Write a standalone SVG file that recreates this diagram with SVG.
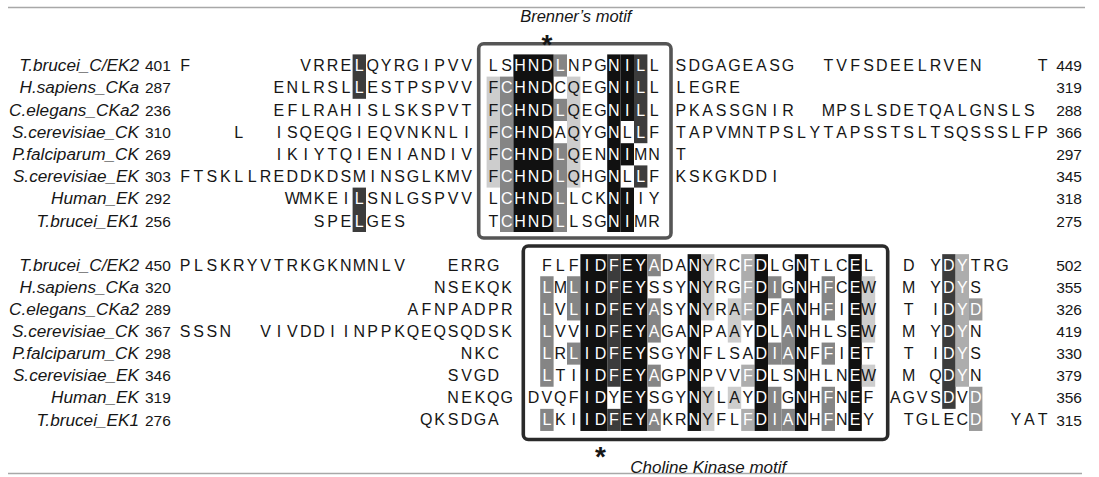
<svg xmlns="http://www.w3.org/2000/svg" width="1099" height="477" viewBox="0 0 1099 477">
<style>
text{font-family:"Liberation Sans",Arial,Helvetica,sans-serif}
.s{font-size:16px;text-anchor:middle;fill:#161616}
.w{font-size:16px;text-anchor:middle;fill:#ffffff}
.lab{font-size:17.2px;font-style:italic;text-anchor:end;fill:#161616}
.nl{font-size:15.5px;fill:#161616}
.nr{font-size:15.5px;fill:#161616;text-anchor:end}
.ttl{font-size:16.5px;font-style:italic;text-anchor:middle;fill:#161616}
.ast{font-size:28px;font-weight:bold;text-anchor:middle;fill:#161616}
.k{fill:#111111}.d{fill:#3c3c3c}.m{fill:#858585}.l{fill:#cdcdcd}.l2{fill:#adadad}.m2{fill:#999999}
.rule{stroke:#a8a8a8;stroke-width:1.3}
.box{fill:none;stroke-width:3.6}
</style>
<g id="rules">
<line class="rule" x1="8" y1="7.5" x2="1085" y2="7.5"/>
<line class="rule" x1="8" y1="473.5" x2="1082" y2="473.5"/>
</g>
<g id="block1-labels">
<text class="lab" x="139" y="71.1">T.brucei_C/EK2</text>
<text class="lab" x="139" y="93.3">H.sapiens_CKa</text>
<text class="lab" x="139" y="115.5">C.elegans_CKa2</text>
<text class="lab" x="139" y="137.7">S.cerevisiae_CK</text>
<text class="lab" x="139" y="159.9">P.falciparum_CK</text>
<text class="lab" x="139" y="182.1">S.cerevisiae_EK</text>
<text class="lab" x="139" y="204.3">Human_EK</text>
<text class="lab" x="139" y="226.5">T.brucei_EK1</text>
<text class="nl" x="145" y="71.1">401</text>
<text class="nl" x="145" y="93.3">287</text>
<text class="nl" x="145" y="115.5">236</text>
<text class="nl" x="145" y="137.7">310</text>
<text class="nl" x="145" y="159.9">269</text>
<text class="nl" x="145" y="182.1">303</text>
<text class="nl" x="145" y="204.3">292</text>
<text class="nl" x="145" y="226.5">256</text>
<text class="nr" x="1082" y="71.1">449</text>
<text class="nr" x="1082" y="93.3">319</text>
<text class="nr" x="1082" y="115.5">288</text>
<text class="nr" x="1082" y="137.7">366</text>
<text class="nr" x="1082" y="159.9">297</text>
<text class="nr" x="1082" y="182.1">345</text>
<text class="nr" x="1082" y="204.3">318</text>
<text class="nr" x="1082" y="226.5">275</text>
</g>
<g id="block1" transform="translate(185.1,65.5)">
<g id="block1-shading">
<rect class="d" x="167.5" y="-11.1" width="13.4" height="44.4"/>
<rect class="d" x="167.5" y="122.1" width="13.4" height="44.4"/>
<rect class="l" x="301.5" y="11.1" width="13.4" height="111"/>
<rect class="l" x="381.9" y="11.1" width="13.4" height="111"/>
<rect class="m" x="314.9" y="11.1" width="13.4" height="155.4"/>
<rect class="m" x="368.5" y="-11.1" width="13.4" height="22.2"/>
<rect class="m" x="368.5" y="33.3" width="13.4" height="22.2"/>
<rect class="m" x="368.5" y="77.7" width="13.4" height="88.8"/>
<rect class="k" x="328.3" y="-11.1" width="40.2" height="177.6"/>
<rect class="k" x="422.1" y="-11.1" width="13.4" height="177.6"/>
<rect class="k" x="435.5" y="-11.1" width="13.4" height="66.6"/>
<rect class="k" x="435.5" y="77.7" width="13.4" height="22.2"/>
<rect class="k" x="435.5" y="122.1" width="13.4" height="44.4"/>
<rect class="d" x="448.9" y="-11.1" width="13.4" height="88.8"/>
<rect class="d" x="448.9" y="99.9" width="13.4" height="22.2"/>
</g>
<g id="block1-row1">
<text class="s" y="5.6" x="0 120.6 134 147.4 160.8">FVRRE</text>
<text class="w" y="5.6" x="174.2">L</text>
<text class="s" y="5.6" x="187.6 201 214.4 227.8 241.2 254.6 268 281.4 308.2 321.6">QYRGIPVVLS</text>
<text class="w" y="5.6" x="335 348.4 361.8 375.2">HNDL</text>
<text class="s" y="5.6" x="388.6 402 415.4">NPG</text>
<text class="w" y="5.6" x="428.8 442.2 455.6">NIL</text>
<text class="s" y="5.6" x="469 495.8 509.2 522.6 536 549.4 562.8 576.2 589.6 603 643.2 656.6 670 683.4 696.8 710.2 723.6 737 750.4 763.8 777.2 790.6 857.6">LSDGAGEASGTVFSDEELRVENT</text>
</g>
<g id="block1-row2">
<text class="s" y="27.8" x="93.8 107.2 120.6 134 147.4 160.8">ENLRSL</text>
<text class="w" y="27.8" x="174.2">L</text>
<text class="s" y="27.8" x="187.6 201 214.4 227.8 241.2 254.6 268 281.4 308.2">ESTPSPVVF</text>
<text class="w" y="27.8" x="321.6 335 348.4 361.8">CHND</text>
<text class="s" y="27.8" x="375.2 388.6 402 415.4">CQEG</text>
<text class="w" y="27.8" x="428.8 442.2 455.6">NIL</text>
<text class="s" y="27.8" x="469 495.8 509.2 522.6 536 549.4">LLEGRE</text>
</g>
<g id="block1-row3">
<text class="s" y="50" x="93.8 107.2 120.6 134 147.4 160.8 174.2 187.6 201 214.4 227.8 241.2 254.6 268 281.4 308.2">EFLRAHISLSKSPVTF</text>
<text class="w" y="50" x="321.6 335 348.4 361.8 375.2">CHNDL</text>
<text class="s" y="50" x="388.6 402 415.4">QEG</text>
<text class="w" y="50" x="428.8 442.2 455.6">NIL</text>
<text class="s" y="50" x="469 495.8 509.2 522.6 536 549.4 562.8 576.2 589.6 603 643.2 656.6 670 683.4 696.8 710.2 723.6 737 750.4 763.8 777.2 790.6 804 817.4 830.8 844.2">LPKASSGNIRMPSLSDETQALGNSLS</text>
</g>
<g id="block1-row4">
<text class="s" y="72.2" x="53.6 93.8 107.2 120.6 134 147.4 160.8 174.2 187.6 201 214.4 227.8 241.2 254.6 268 281.4 308.2">LISQEQGIEQVNKNLIF</text>
<text class="w" y="72.2" x="321.6 335 348.4 361.8">CHND</text>
<text class="s" y="72.2" x="375.2 388.6 402 415.4">AQYG</text>
<text class="w" y="72.2" x="428.8">N</text>
<text class="s" y="72.2" x="442.2">L</text>
<text class="w" y="72.2" x="455.6">L</text>
<text class="s" y="72.2" x="469 495.8 509.2 522.6 536 549.4 562.8 576.2 589.6 603 616.4 629.8 643.2 656.6 670 683.4 696.8 710.2 723.6 737 750.4 763.8 777.2 790.6 804 817.4 830.8 844.2 857.6">FTAPVMNTPSLYTAPSSTSLTSQSSSLFP</text>
</g>
<g id="block1-row5">
<text class="s" y="94.4" x="93.8 107.2 120.6 134 147.4 160.8 174.2 187.6 201 214.4 227.8 241.2 254.6 268 281.4 308.2">IKIYTQIENIANDIVF</text>
<text class="w" y="94.4" x="321.6 335 348.4 361.8 375.2">CHNDL</text>
<text class="s" y="94.4" x="388.6 402 415.4">QEN</text>
<text class="w" y="94.4" x="428.8 442.2">NI</text>
<text class="s" y="94.4" x="455.6 469 495.8">MNT</text>
</g>
<g id="block1-row6">
<text class="s" y="116.6" x="0 13.4 26.8 40.2 53.6 67 80.4 93.8 107.2 120.6 134 147.4 160.8 174.2 187.6 201 214.4 227.8 241.2 254.6 268 281.4 308.2">FTSKLLREDDKDSMINSGLKMVF</text>
<text class="w" y="116.6" x="321.6 335 348.4 361.8 375.2">CHNDL</text>
<text class="s" y="116.6" x="388.6 402 415.4">QHG</text>
<text class="w" y="116.6" x="428.8">N</text>
<text class="s" y="116.6" x="442.2">L</text>
<text class="w" y="116.6" x="455.6">L</text>
<text class="s" y="116.6" x="469 495.8 509.2 522.6 536 549.4 562.8 576.2 589.6">FKSKGKDDI</text>
</g>
<g id="block1-row7">
<text class="s" y="138.8" x="107.2 120.6 134 147.4 160.8">WMKEI</text>
<text class="w" y="138.8" x="174.2">L</text>
<text class="s" y="138.8" x="187.6 201 214.4 227.8 241.2 254.6 268 281.4 308.2">SNLGSPVVL</text>
<text class="w" y="138.8" x="321.6 335 348.4 361.8 375.2">CHNDL</text>
<text class="s" y="138.8" x="388.6 402 415.4">LCK</text>
<text class="w" y="138.8" x="428.8 442.2">NI</text>
<text class="s" y="138.8" x="455.6 469">IY</text>
</g>
<g id="block1-row8">
<text class="s" y="161" x="134 147.4 160.8">SPE</text>
<text class="w" y="161" x="174.2">L</text>
<text class="s" y="161" x="187.6 201 214.4 308.2">GEST</text>
<text class="w" y="161" x="321.6 335 348.4 361.8 375.2">CHNDL</text>
<text class="s" y="161" x="388.6 402 415.4">LSG</text>
<text class="w" y="161" x="428.8 442.2">NI</text>
<text class="s" y="161" x="455.6 469">MR</text>
</g>
</g>
<g id="brenner-motif">
<rect class="box" x="478.7" y="43.8" width="192.3" height="194.2" rx="5" stroke="#555555"/>
<text class="ttl" x="575.8" y="21.7">Brenner’s motif</text>
<text class="ast" x="546.9" y="54">*</text>
</g>
<g id="block2-labels">
<text class="lab" x="139" y="270.8">T.brucei_C/EK2</text>
<text class="lab" x="139" y="292.9">H.sapiens_CKa</text>
<text class="lab" x="139" y="315">C.elegans_CKa2</text>
<text class="lab" x="139" y="337.1">S.cerevisiae_CK</text>
<text class="lab" x="139" y="359.2">P.falciparum_CK</text>
<text class="lab" x="139" y="381.3">S.cerevisiae_EK</text>
<text class="lab" x="139" y="403.4">Human_EK</text>
<text class="lab" x="139" y="425.5">T.brucei_EK1</text>
<text class="nl" x="145" y="270.8">450</text>
<text class="nl" x="145" y="292.9">320</text>
<text class="nl" x="145" y="315">289</text>
<text class="nl" x="145" y="337.1">367</text>
<text class="nl" x="145" y="359.2">298</text>
<text class="nl" x="145" y="381.3">346</text>
<text class="nl" x="145" y="403.4">319</text>
<text class="nl" x="145" y="425.5">276</text>
<text class="nr" x="1082" y="270.8">502</text>
<text class="nr" x="1082" y="292.9">355</text>
<text class="nr" x="1082" y="315">326</text>
<text class="nr" x="1082" y="337.1">419</text>
<text class="nr" x="1082" y="359.2">330</text>
<text class="nr" x="1082" y="381.3">379</text>
<text class="nr" x="1082" y="403.4">356</text>
<text class="nr" x="1082" y="425.5">315</text>
</g>
<g id="block2" transform="translate(185.1,265.2)">
<g id="block2-shading">
<rect class="m" x="355.1" y="11.05" width="13.4" height="110.5"/>
<rect class="m" x="355.1" y="143.65" width="13.4" height="22.1"/>
<rect class="m" x="381.9" y="11.05" width="13.4" height="44.2"/>
<rect class="m" x="381.9" y="77.35" width="13.4" height="22.1"/>
<rect class="k" x="395.3" y="-11.05" width="26.8" height="176.8"/>
<rect class="d" x="422.1" y="-11.05" width="13.4" height="132.6"/>
<rect class="d" x="422.1" y="143.65" width="13.4" height="22.1"/>
<rect class="k" x="435.5" y="-11.05" width="26.8" height="176.8"/>
<rect class="m" x="462.3" y="-11.05" width="13.4" height="22.1"/>
<rect class="m" x="462.3" y="33.15" width="13.4" height="44.2"/>
<rect class="m" x="462.3" y="99.45" width="13.4" height="22.1"/>
<rect class="m" x="462.3" y="143.65" width="13.4" height="22.1"/>
<rect class="k" x="502.5" y="-11.05" width="13.4" height="176.8"/>
<rect class="l" x="515.9" y="-11.05" width="13.4" height="66.3"/>
<rect class="l" x="515.9" y="121.55" width="13.4" height="44.2"/>
<rect class="l" x="542.7" y="33.15" width="13.4" height="44.2"/>
<rect class="l" x="542.7" y="121.55" width="13.4" height="22.1"/>
<rect class="l2" x="556.1" y="-11.05" width="13.4" height="66.3"/>
<rect class="l2" x="556.1" y="99.45" width="13.4" height="22.1"/>
<rect class="l2" x="556.1" y="143.65" width="13.4" height="22.1"/>
<rect class="k" x="569.5" y="-11.05" width="13.4" height="176.8"/>
<rect class="m" x="582.9" y="11.05" width="13.4" height="22.1"/>
<rect class="m" x="582.9" y="77.35" width="13.4" height="22.1"/>
<rect class="m" x="582.9" y="121.55" width="13.4" height="44.2"/>
<rect class="m" x="596.3" y="33.15" width="13.4" height="66.3"/>
<rect class="m" x="596.3" y="143.65" width="13.4" height="22.1"/>
<rect class="k" x="609.7" y="-11.05" width="13.4" height="176.8"/>
<rect class="m" x="636.5" y="11.05" width="13.4" height="44.2"/>
<rect class="m" x="636.5" y="77.35" width="13.4" height="22.1"/>
<rect class="m" x="636.5" y="121.55" width="13.4" height="44.2"/>
<rect class="k" x="663.3" y="-11.05" width="13.4" height="176.8"/>
<rect class="l" x="676.7" y="11.05" width="13.4" height="66.3"/>
<rect class="l" x="676.7" y="99.45" width="13.4" height="22.1"/>
<rect class="d" x="757.1" y="-11.05" width="13.4" height="154.7"/>
<rect class="l2" x="770.5" y="-11.05" width="13.4" height="132.6"/>
<rect class="m2" x="783.9" y="33.15" width="13.4" height="22.1"/>
<rect class="m2" x="783.9" y="121.55" width="13.4" height="44.2"/>
</g>
<g id="block2-row1">
<text class="s" y="5.6" x="0 13.4 26.8 40.2 53.6 67 80.4 93.8 107.2 120.6 134 147.4 160.8 174.2 187.6 201 214.4 268 281.4 294.8 308.2 361.8 375.2 388.6">PLSKRYVTRKGKNMNLVERRGFLF</text>
<text class="w" y="5.6" x="402 415.4 428.8 442.2 455.6 469">IDFEYA</text>
<text class="s" y="5.6" x="482.4 495.8">DA</text>
<text class="w" y="5.6" x="509.2">N</text>
<text class="s" y="5.6" x="522.6 536 549.4">YRC</text>
<text class="w" y="5.6" x="562.8 576.2">FD</text>
<text class="s" y="5.6" x="589.6 603">LG</text>
<text class="w" y="5.6" x="616.4">N</text>
<text class="s" y="5.6" x="629.8 643.2 656.6">TLC</text>
<text class="w" y="5.6" x="670">E</text>
<text class="s" y="5.6" x="683.4 723.6 750.4">LDY</text>
<text class="w" y="5.6" x="763.8 777.2">DY</text>
<text class="s" y="5.6" x="790.6 804 817.4">TRG</text>
</g>
<g id="block2-row2">
<text class="s" y="27.7" x="254.6 268 281.4 294.8 308.2 321.6">NSEKQK</text>
<text class="w" y="27.7" x="361.8">L</text>
<text class="s" y="27.7" x="375.2">M</text>
<text class="w" y="27.7" x="388.6 402 415.4 428.8 442.2 455.6">LIDFEY</text>
<text class="s" y="27.7" x="469 482.4 495.8">SSY</text>
<text class="w" y="27.7" x="509.2">N</text>
<text class="s" y="27.7" x="522.6 536 549.4">YRG</text>
<text class="w" y="27.7" x="562.8 576.2 589.6">FDI</text>
<text class="s" y="27.7" x="603">G</text>
<text class="w" y="27.7" x="616.4">N</text>
<text class="s" y="27.7" x="629.8">H</text>
<text class="w" y="27.7" x="643.2">F</text>
<text class="s" y="27.7" x="656.6">C</text>
<text class="w" y="27.7" x="670">E</text>
<text class="s" y="27.7" x="683.4 723.6 750.4">WMY</text>
<text class="w" y="27.7" x="763.8 777.2">DY</text>
<text class="s" y="27.7" x="790.6">S</text>
</g>
<g id="block2-row3">
<text class="s" y="49.8" x="227.8 241.2 254.6 268 281.4 294.8 308.2 321.6">AFNPADPR</text>
<text class="w" y="49.8" x="361.8">L</text>
<text class="s" y="49.8" x="375.2">V</text>
<text class="w" y="49.8" x="388.6 402 415.4 428.8 442.2 455.6 469">LIDFEYA</text>
<text class="s" y="49.8" x="482.4 495.8">SY</text>
<text class="w" y="49.8" x="509.2">N</text>
<text class="s" y="49.8" x="522.6 536 549.4">YRA</text>
<text class="w" y="49.8" x="562.8 576.2">FD</text>
<text class="s" y="49.8" x="589.6">F</text>
<text class="w" y="49.8" x="603 616.4">AN</text>
<text class="s" y="49.8" x="629.8">H</text>
<text class="w" y="49.8" x="643.2">F</text>
<text class="s" y="49.8" x="656.6">I</text>
<text class="w" y="49.8" x="670">E</text>
<text class="s" y="49.8" x="683.4 723.6 750.4">WTI</text>
<text class="w" y="49.8" x="763.8 777.2 790.6">DYD</text>
</g>
<g id="block2-row4">
<text class="s" y="71.9" x="0 13.4 26.8 40.2 80.4 93.8 107.2 120.6 134 147.4 160.8 174.2 187.6 201 214.4 227.8 241.2 254.6 268 281.4 294.8 308.2 321.6">SSSNVIVDDIINPPKQEQSQDSK</text>
<text class="w" y="71.9" x="361.8">L</text>
<text class="s" y="71.9" x="375.2 388.6">VV</text>
<text class="w" y="71.9" x="402 415.4 428.8 442.2 455.6 469">IDFEYA</text>
<text class="s" y="71.9" x="482.4 495.8">GA</text>
<text class="w" y="71.9" x="509.2">N</text>
<text class="s" y="71.9" x="522.6 536 549.4 562.8">PAAY</text>
<text class="w" y="71.9" x="576.2">D</text>
<text class="s" y="71.9" x="589.6">L</text>
<text class="w" y="71.9" x="603 616.4">AN</text>
<text class="s" y="71.9" x="629.8 643.2 656.6">HLS</text>
<text class="w" y="71.9" x="670">E</text>
<text class="s" y="71.9" x="683.4 723.6 750.4">WMY</text>
<text class="w" y="71.9" x="763.8 777.2">DY</text>
<text class="s" y="71.9" x="790.6">N</text>
</g>
<g id="block2-row5">
<text class="s" y="94" x="281.4 294.8 308.2">NKC</text>
<text class="w" y="94" x="361.8">L</text>
<text class="s" y="94" x="375.2">R</text>
<text class="w" y="94" x="388.6 402 415.4 428.8 442.2 455.6">LIDFEY</text>
<text class="s" y="94" x="469 482.4 495.8">SGY</text>
<text class="w" y="94" x="509.2">N</text>
<text class="s" y="94" x="522.6 536 549.4 562.8">FLSA</text>
<text class="w" y="94" x="576.2 589.6 603 616.4">DIAN</text>
<text class="s" y="94" x="629.8">F</text>
<text class="w" y="94" x="643.2">F</text>
<text class="s" y="94" x="656.6">I</text>
<text class="w" y="94" x="670">E</text>
<text class="s" y="94" x="683.4 723.6 750.4">TTI</text>
<text class="w" y="94" x="763.8 777.2">DY</text>
<text class="s" y="94" x="790.6">S</text>
</g>
<g id="block2-row6">
<text class="s" y="116.1" x="268 281.4 294.8 308.2">SVGD</text>
<text class="w" y="116.1" x="361.8">L</text>
<text class="s" y="116.1" x="375.2 388.6">TI</text>
<text class="w" y="116.1" x="402 415.4 428.8 442.2 455.6 469">IDFEYA</text>
<text class="s" y="116.1" x="482.4 495.8">GP</text>
<text class="w" y="116.1" x="509.2">N</text>
<text class="s" y="116.1" x="522.6 536 549.4">PVV</text>
<text class="w" y="116.1" x="562.8 576.2">FD</text>
<text class="s" y="116.1" x="589.6 603">LS</text>
<text class="w" y="116.1" x="616.4">N</text>
<text class="s" y="116.1" x="629.8 643.2 656.6">HLN</text>
<text class="w" y="116.1" x="670">E</text>
<text class="s" y="116.1" x="683.4 723.6 750.4">WMQ</text>
<text class="w" y="116.1" x="763.8 777.2">DY</text>
<text class="s" y="116.1" x="790.6">N</text>
</g>
<g id="block2-row7">
<text class="s" y="138.2" x="268 281.4 294.8 308.2 321.6 348.4 361.8 375.2 388.6">NEKQGDVQF</text>
<text class="w" y="138.2" x="402 415.4">ID</text>
<text class="s" y="138.2" x="428.8">Y</text>
<text class="w" y="138.2" x="442.2 455.6">EY</text>
<text class="s" y="138.2" x="469 482.4 495.8">SGY</text>
<text class="w" y="138.2" x="509.2">N</text>
<text class="s" y="138.2" x="522.6 536 549.4 562.8">YLAY</text>
<text class="w" y="138.2" x="576.2 589.6">DI</text>
<text class="s" y="138.2" x="603">G</text>
<text class="w" y="138.2" x="616.4">N</text>
<text class="s" y="138.2" x="629.8">H</text>
<text class="w" y="138.2" x="643.2">F</text>
<text class="s" y="138.2" x="656.6">N</text>
<text class="w" y="138.2" x="670">E</text>
<text class="s" y="138.2" x="683.4 710.2 723.6 737 750.4">FAGVS</text>
<text class="w" y="138.2" x="763.8">D</text>
<text class="s" y="138.2" x="777.2">V</text>
<text class="w" y="138.2" x="790.6">D</text>
</g>
<g id="block2-row8">
<text class="s" y="160.3" x="241.2 254.6 268 281.4 294.8 308.2">QKSDGA</text>
<text class="w" y="160.3" x="361.8">L</text>
<text class="s" y="160.3" x="375.2 388.6">KI</text>
<text class="w" y="160.3" x="402 415.4 428.8 442.2 455.6 469">IDFEYA</text>
<text class="s" y="160.3" x="482.4 495.8">KR</text>
<text class="w" y="160.3" x="509.2">N</text>
<text class="s" y="160.3" x="522.6 536 549.4">YFL</text>
<text class="w" y="160.3" x="562.8 576.2 589.6 603 616.4">FDIAN</text>
<text class="s" y="160.3" x="629.8">H</text>
<text class="w" y="160.3" x="643.2">F</text>
<text class="s" y="160.3" x="656.6">N</text>
<text class="w" y="160.3" x="670">E</text>
<text class="s" y="160.3" x="683.4 723.6 737 750.4 763.8 777.2">YTGLEC</text>
<text class="w" y="160.3" x="790.6">D</text>
<text class="s" y="160.3" x="830.8 844.2 857.6">YAT</text>
</g>
</g>
<g id="choline-kinase-motif">
<rect class="box" x="523.3" y="246" width="364.4" height="193.5" rx="5" stroke="#2a2a2a"/>
<text class="ast" x="600.5" y="466">*</text>
<text class="ttl" x="708.3" y="472.5" style="font-size:17px">Choline Kinase motif</text>
</g>
</svg>
